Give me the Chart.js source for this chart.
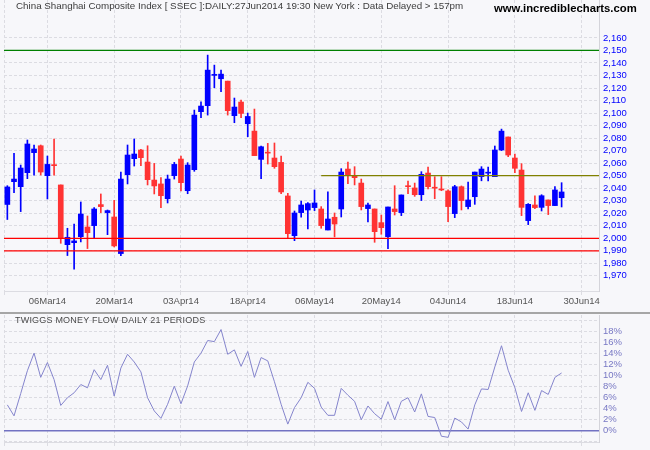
<!DOCTYPE html>
<html>
<head>
<meta charset="utf-8">
<script src="https://cdn.jsdelivr.net/npm/chart.js@4.4.1/dist/chart.umd.min.js"></script>
<style>
  html, body { margin: 0; padding: 0; background: #f7f7fa; }
  #wrap { position: relative; width: 650px; height: 450px; background: #f7f7fa; overflow: hidden; font-family: "Liberation Sans", Arial, sans-serif; }
  .pane { position: absolute; left: 0; width: 650px; }
  #title { position: absolute; left: 16px; top: 0; font-size: 9.8px; line-height: 12px; color: #3c3c3c; white-space: nowrap; }
  #brand { position: absolute; left: 494px; top: 0; font-size: 11.3px; font-weight: bold; line-height: 16px; color: #000; white-space: nowrap; }
  #sep { position: absolute; left: 0; top: 312px; width: 650px; height: 2px; background: #a6a6a6; }
  #tmfTitle { position: absolute; left: 15px; top: 314px; font-size: 9px; letter-spacing: 0.2px; line-height: 12px; color: #4a4a4a; white-space: nowrap; }
</style>
</head>
<body>
<div id="wrap">
  <div class="pane" style="top:0;height:313px"><canvas id="price"></canvas></div>
  <div id="sep"></div>
  <div class="pane" style="top:314px;height:136px"><canvas id="tmf"></canvas></div>
  <div id="title">China Shanghai Composite Index [ SSEC ]:DAILY:27Jun2014 19:30 New York : Data Delayed &gt; 157pm</div>
  <div id="brand">www.incrediblecharts.com</div>
  <div id="tmfTitle">TWIGGS MONEY FLOW DAILY 21 PERIODS</div>
</div>
<script>
// daily candles 26Feb14 .. 27Jun14
const opens = [
  2027, 2045.2, 2041.2, 2052.4, 2068.4, 2073.9, 2050, 2058.6, 2042.6, 1994.9,
  1996.5, 2001.3, 2009, 2010.1, 2026.9, 2020.5, 2017, 1987.8, 2050.8, 2063.6,
  2070.5, 2060.9, 2046.5, 2043.4, 2031.6, 2050, 2063.3, 2038, 2054.8, 2101.1,
  2105.9, 2130.1, 2127.4, 2125.5, 2097.9, 2108.8, 2091.5, 2085.6, 2063, 2068.4,
  2064.1, 2060.6, 2033.8, 2002.1, 2020.5, 2022.6, 2024.5, 2023.4, 2006.6, 2016.8,
  2023.4, 2055.3, 2050, 2044.1, 2023.7, 2023.4, 2012.5, 2001.3, 2023.4, 2020.5,
  2042, 2040.2, 2034.8, 2052.1, 2040.5, 2039.4, 2037.8, 2019.7, 2041.2, 2025.3,
  2033.2, 2049.2, 2052, 2049.2, 2070.5, 2080.9, 2064.1, 2054.5, 2014.1, 2026.6,
  2024.7, 2030.6, 2026.1, 2032.4
];
const highs = [
  2042, 2067.8, 2058.5, 2078.5, 2074.5, 2074.5, 2065.7, 2079.3, 2042.6, 2008,
  2011.4, 2029, 2017.8, 2024.5, 2035.4, 2022.6, 2030.3, 2052.9, 2074.5, 2079.3,
  2071, 2073.9, 2059.8, 2048.4, 2050.5, 2060.6, 2065.7, 2060.4, 2102.4, 2109,
  2146.3, 2138.3, 2134.3, 2125.5, 2112, 2110.4, 2100, 2103.2, 2073.7, 2075.8,
  2076.1, 2065.7, 2035.9, 2021.8, 2029.8, 2028.5, 2038.6, 2025.3, 2037, 2020.2,
  2055.6, 2060.9, 2057.2, 2047.3, 2028.2, 2023.4, 2018.6, 2025, 2042, 2034.6,
  2045.7, 2044.1, 2053.2, 2056.9, 2049.2, 2049.2, 2038.6, 2042.3, 2041.8, 2044.9,
  2052.9, 2057.2, 2056.9, 2073.7, 2087.2, 2080.9, 2067.3, 2059.6, 2027.7, 2034,
  2034.8, 2030.6, 2041.2, 2044.4
];
const lows = [
  2015, 2036.4, 2021.3, 2047.6, 2050.5, 2050.5, 2031.4, 2050.5, 1996, 1986.2,
  1975.3, 1997.1, 1991.8, 1999.7, 2020.5, 2002.9, 1993.1, 1986.2, 2043.4, 2057.7,
  2058, 2042.6, 2035.4, 2024.5, 2028.2, 2047.3, 2037.8, 2035.6, 2053.5, 2096.3,
  2098.4, 2120.2, 2117, 2098.4, 2092.3, 2096.3, 2081.1, 2066, 2047.6, 2059.3,
  2055.9, 2035.6, 2000, 1998.1, 2016.8, 2007.4, 2022.1, 2008, 2006.6, 2001.1,
  2017, 2043.6, 2042.6, 2022.6, 2013, 1996.8, 2003.2, 1991.8, 2018.6, 2018.1,
  2035.6, 2033.5, 2030.1, 2039.4, 2031.6, 2038, 2013.3, 2016.5, 2022.6, 2023.4,
  2027.1, 2045.9, 2045.9, 2049.2, 2070, 2065.2, 2052.4, 2018.1, 2010.9, 2023.7,
  2021.8, 2018.9, 2026.1, 2025
];
const closes = [
  2041, 2047.3, 2056.1, 2075.3, 2071.3, 2052.9, 2059, 2058, 2000, 2000.8,
  1997.9, 2019.4, 2004.5, 2023.4, 2025.3, 2022.1, 1993.9, 2047.3, 2066.5, 2067.3,
  2064.4, 2046.8, 2041.8, 2034, 2047.3, 2059, 2044.4, 2058.5, 2098.4, 2105.6,
  2134.3, 2130.4, 2131.1, 2101.9, 2104.8, 2099.7, 2097.3, 2066, 2073.1, 2068,
  2057.2, 2037, 2003.7, 2020.2, 2026.6, 2027.7, 2028.2, 2010.1, 2015.4, 2011.4,
  2052.9, 2050.5, 2048.4, 2025.3, 2026.6, 2005.3, 2008.5, 2025, 2021.3, 2034.6,
  2041.2, 2034.8, 2051.1, 2041.2, 2040, 2038.6, 2025.3, 2041.2, 2030.1, 2030.6,
  2052.9, 2055.3, 2052.3, 2070.5, 2085.6, 2066.5, 2055.9, 2024.7, 2027.1, 2024.5,
  2034, 2026.1, 2038.6, 2037
];
// Twiggs money flow, percent
const tmf = [
  4.7, 2.7, 6.75, 10.9, 14.1, 9.7, 12.4, 9.3, 4.6, 6.0,
  6.9, 8.4, 7.8, 11.1, 9.3, 11.9, 6.3, 11.4, 13.9, 12.5,
  10.7, 6.0, 3.6, 2.25, 4.8, 8.1, 4.9, 8.15, 12.5, 14.1,
  16.4, 16.2, 18.4, 13.9, 14.7, 11.7, 14.4, 9.7, 13.3, 12.7,
  8.9, 4.8, 1.2, 4.2, 6.0, 8.8, 7.7, 4.3, 2.8, 2.8,
  7.7, 6.45, 5.35, 2.0, 4.5, 3.1, 2.1, 5.3, 2.0, 5.35,
  6.0, 3.4, 6.7, 2.6, 2.4, -1.0, -1.2, 2.3, 1.6, 0.3,
  4.7, 7.6, 7.5, 11.6, 15.45, 11.0, 7.85, 3.5, 6.9, 3.7,
  7.3, 6.6, 9.7, 10.5
];

const xTickLabels = ['06Mar14', '20Mar14', '03Apr14', '18Apr14', '06May14', '20May14', '04Jun14', '18Jun14', '30Jun14'];
const xTickIndex = [6, 16, 26, 36, 46, 56, 66, 76, 86];
const yTicks = [1970, 1980, 1990, 2000, 2010, 2020, 2030, 2040, 2050, 2060, 2070, 2080, 2090, 2100, 2110, 2120, 2130, 2140, 2150, 2160];
const tmfTicks = [-2, 0, 2, 4, 6, 8, 10, 12, 14, 16, 18, 20];

const resistance = 2150;
const supports = [2000, 1990];
const midLevel = 2050;
const midStart = 47;

const xMin = -0.5, xMax = 88.6;
const gridColor = '#dcdce2';
const font = 'Liberation Sans';

const candleColor = c => closes[c.dataIndex] >= opens[c.dataIndex] ? '#0000ff' : '#ff3333';

function hline(y, from, color) {
  return {
    type: 'line', data: [{x: from, y: y}, {x: xMax, y: y}],
    borderColor: color, borderWidth: 1.2, pointRadius: 0, order: 0
  };
}

function xScale(height, showLabels) {
  return {
    type: 'linear', min: xMin, max: xMax, offset: false,
    afterBuildTicks: s => { s.ticks = [xMin].concat(xTickIndex).map(v => ({value: v})); },
    afterFit: s => { s.height = height; s.paddingLeft = 0; s.paddingRight = 0; },
    grid: { offset: false, color: gridColor, tickColor: gridColor, tickLength: 4 },
    border: { display: true, color: gridColor, dash: [3, 2] },
    ticks: {
      display: showLabels, autoSkip: false, maxRotation: 0, padding: 1,
      color: '#555', font: { family: font, size: 9.5 },
      callback: v => { const k = xTickIndex.indexOf(v); return k < 0 ? '' : xTickLabels[k]; }
    }
  };
}

function yScale(min, max, ticks, color, fmt) {
  return {
    position: 'right', min: min, max: max,
    afterBuildTicks: s => { s.ticks = ticks.map(v => ({value: v})); },
    afterFit: s => { s.width = 51; s.paddingTop = 0; s.paddingBottom = 0; },
    grid: { color: gridColor, drawTicks: false },
    border: { display: true, color: '#d4d4da', dash: [3, 2] },
    ticks: { autoSkip: false, color: color, padding: 4, font: { family: font, size: 9.5 }, callback: fmt }
  };
}

new Chart(document.getElementById('price'), {
  type: 'bar',
  data: {
    datasets: [
      { data: highs.map((h, i) => ({x: i, y: [lows[i], h]})), backgroundColor: candleColor,
        barThickness: 1, grouped: false, minBarLength: 1, order: 2 },
      { data: opens.map((o, i) => ({x: i, y: [o, closes[i]]})), backgroundColor: candleColor,
        barThickness: 5, grouped: false, minBarLength: 1, order: 1 },
      hline(resistance, xMin, '#008000'),
      hline(supports[0], xMin, '#ff0000'),
      hline(supports[1], xMin, '#ff0000'),
      hline(midLevel, midStart, '#808000')
    ]
  },
  options: {
    responsive: true, maintainAspectRatio: false, animation: false,
    layout: { padding: { left: 4, top: 0, right: 0, bottom: 0 } },
    plugins: { legend: { display: false }, tooltip: { enabled: false } },
    scales: {
      x: xScale(22, true),
      y: yScale(1957.9, 2190.3, yTicks, '#0000ff', v => v.toLocaleString('en-US'))
    }
  }
});

new Chart(document.getElementById('tmf'), {
  type: 'line',
  data: {
    datasets: [
      { data: tmf.map((v, i) => ({x: i, y: v})), borderColor: '#8484cc', borderWidth: 1,
        pointRadius: 0, tension: 0 },
      { data: [{x: xMin, y: 0}, {x: xMax, y: 0}], borderColor: '#7272c2', borderWidth: 1.5, pointRadius: 0 }
    ]
  },
  options: {
    responsive: true, maintainAspectRatio: false, animation: false,
    layout: { padding: { left: 4, top: 1, right: 0, bottom: 0 } },
    plugins: { legend: { display: false }, tooltip: { enabled: false } },
    scales: {
      x: xScale(8, false),
      y: yScale(-2.05, 21.04, tmfTicks, '#7878c4', v => (v >= 0 && v <= 18) ? v + '%' : '')
    }
  }
});
</script>
</body>
</html>
